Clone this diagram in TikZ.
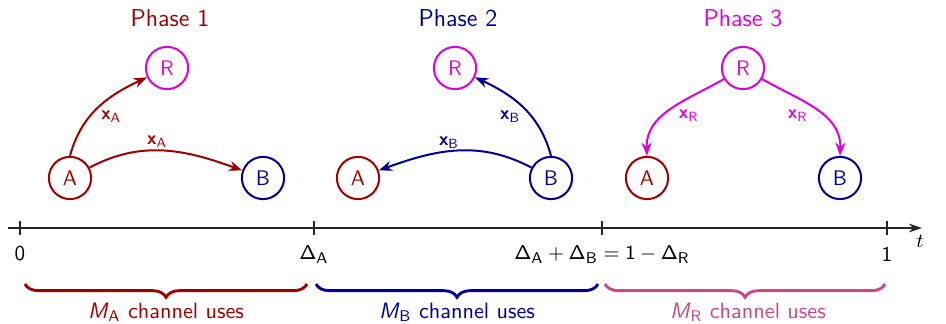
\documentclass[tikz,border=0pt]{standalone}
\usetikzlibrary{arrows.meta,decorations.pathreplacing}
\definecolor{cA}{HTML}{A00000}
\definecolor{cB}{HTML}{000096}
\definecolor{cR}{HTML}{DD00DD}
\definecolor{cP}{HTML}{C8488A}
\newcommand{\xv}[1]{\textsf{\bfseries x}$_{\mathsf{#1}}$}
\newcommand{\Mv}[1]{\textsf{\itshape M}$_{\mathsf{#1}}$}
\begin{document}
\begin{tikzpicture}[x=0.45pt,y=-0.45pt,font=\sffamily,
  nd/.style={circle,draw,line width=0.9pt,minimum size=19pt,inner sep=0pt,font=\sffamily\fontsize{9.5}{11}\selectfont},
  ph/.style={font=\sffamily\fontsize{11}{13}\selectfont},
  arr/.style={line width=0.9pt,-{Stealth[length=6pt,width=4.5pt]}},
  lbl/.style={font=\sffamily\fontsize{8.5}{10}\selectfont,inner sep=1pt},
  brc/.style={decorate,decoration={brace,mirror,amplitude=6pt},line width=1.3pt},
  blab/.style={font=\sffamily\fontsize{10}{12}\selectfont},
  tlab/.style={font=\sffamily\fontsize{9.5}{11}\selectfont}]
\useasboundingbox (0,0) rectangle (946,324);
% Phase 1
\node[ph,text=cA] (t1) at (170,18) {Phase 1};
\node[nd,draw=cR,text=cR] (R1) at (167,68) {R};
\node[nd,draw=cA,text=cA] (A1) at (70,178) {A};
\node[nd,draw=cB,text=cB] (B1) at (263,178) {B};
\draw[arr,cA] (A1.north) to[out=75,in=205] node[lbl,pos=0.5,below right,text=cA] {\xv{A}} (R1);
\draw[arr,cA] (A1) to[out=28,in=160] node[lbl,pos=0.45,above,text=cA] {\xv{A}} (B1);
% Phase 2
\node[ph,text=cB] (t2) at (458,18) {Phase 2};
\node[nd,draw=cR,text=cR] (R2) at (455,68) {R};
\node[nd,draw=cA,text=cA] (A2) at (358,178) {A};
\node[nd,draw=cB,text=cB] (B2) at (551,178) {B};
\draw[arr,cB] (B2.north) to[out=105,in=-25] node[lbl,pos=0.5,below left,text=cB] {\xv{B}} (R2);
\draw[arr,cB] (B2) to[out=152,in=20] node[lbl,pos=0.55,above,text=cB] {\xv{B}} (A2);
% Phase 3
\node[ph,text=cR] (t3) at (743,18) {Phase 3};
\node[nd,draw=cR,text=cR] (R3) at (743,68) {R};
\node[nd,draw=cA,text=cA] (A3) at (647,178) {A};
\node[nd,draw=cB,text=cB] (B3) at (840,178) {B};
\draw[arr,cR] (R3) to[out=210,in=92] node[lbl,pos=0.45,below right,text=cR] {\xv{R}} (A3.north);
\draw[arr,cR] (R3) to[out=-30,in=88] node[lbl,pos=0.45,below left,text=cR] {\xv{R}} (B3.north);
% axis
\coordinate (s) at (8,228);
\coordinate (e) at (922,228);
\draw[line width=0.6pt,black!85,-{Stealth[length=6pt,width=4pt]}] (s) -- (e);
\foreach \n/\x in {z/20,a/314,b/602,o/887}{
  \coordinate (k\n) at (\x,228);
  \draw[line width=0.5pt,black!85] (\x,221) -- (\x,235);
}
\node[tlab] (l0) at (20,254) {0};
\node[tlab] (la) at (314,255) {$\mathsf{\Delta}_{\mathsf{A}}$};
\node[tlab] (lb) at (602,255) {$\mathsf{\Delta}_{\mathsf{A}}+\mathsf{\Delta}_{\mathsf{B}}=\mathsf{1}-\mathsf{\Delta}_{\mathsf{R}}$};
\node[tlab] (l1) at (887,254) {1};
\node[font=\fontsize{9.5}{11}\selectfont] (lt) at (920,241) {$t$};
% braces
\coordinate (b1s) at (25,284); \coordinate (b1e) at (307,284);
\coordinate (b2s) at (316,284); \coordinate (b2e) at (598,284);
\coordinate (b3s) at (605,284); \coordinate (b3e) at (885,284);
\draw[brc,cA] (b1s) -- (b1e);
\draw[brc,cB] (b2s) -- (b2e);
\draw[brc,cP] (b3s) -- (b3e);
\node[blab,text=cA] (m1) at (166,312) {\Mv{A}\ channel uses};
\node[blab,text=cB] (m2) at (457,312) {\Mv{B}\ channel uses};
\node[blab,text=cP] (m3) at (748,312) {\Mv{R}\ channel uses};
\end{tikzpicture}
\end{document}
